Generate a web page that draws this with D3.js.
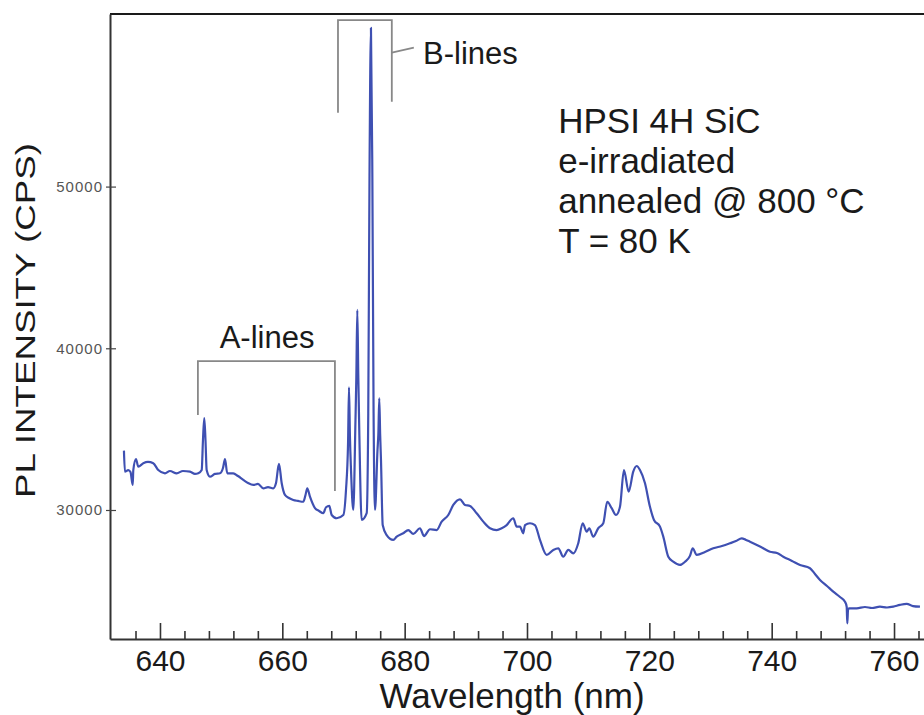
<!DOCTYPE html>
<html>
<head>
<meta charset="utf-8">
<script src="https://cdn.jsdelivr.net/npm/d3@7"></script>
<style>
  body { margin: 0; background: #fff; }
  svg { display: block; font-family: "Liberation Sans", Arial, sans-serif; }
</style>
</head>
<body>
<script>
// PL spectrum: wavelength (nm) and intensity (CPS)
const wavelength = [
  634.11, 634.27, 634.82, 635.18, 635.54, 635.64, 636.08, 636.45, 637.27, 638.04,
  638.90, 639.72, 640.82, 641.63, 642.73, 643.76, 644.90, 645.72, 646.26, 646.82,
  647.03, 647.24, 647.44, 647.63, 648.17, 648.99, 649.81, 650.30, 650.63, 651.00,
  651.98, 652.75, 653.62, 654.39, 655.25, 656.02, 656.89, 657.66, 658.52, 658.96,
  659.45, 659.90, 660.43, 661.09, 661.79, 662.56, 663.43, 663.79, 664.08, 664.52,
  665.34, 666.00, 666.70, 667.14, 667.68, 668.07, 668.89, 669.97, 670.41, 670.75,
  670.90, 671.05, 671.23, 671.60, 671.96, 672.10, 672.26, 672.42, 672.58, 672.97,
  673.79, 674.05, 674.25, 674.49, 674.72, 674.92, 675.15, 675.56, 675.70, 675.85,
  676.00, 676.13, 676.41, 677.06, 678.14, 678.70, 679.77, 680.59,
  681.41, 682.50, 683.16, 684.14, 685.23, 686.05, 687.13, 687.95, 689.04, 689.86,
  690.68, 691.77, 692.85, 693.95, 695.04, 695.86, 696.68, 697.76, 698.31, 698.85,
  699.39, 699.67, 700.49, 701.30, 702.12, 703.22, 704.30, 705.11, 705.93, 706.75,
  707.57, 708.38, 709.10, 709.76, 710.18, 710.83, 711.65, 712.47, 713.12, 713.84,
  714.55, 715.20, 715.85, 716.62, 717.37, 717.93, 718.47, 719.29, 720.10, 720.76,
  721.74, 722.28, 723.10, 723.91, 725.01, 725.83, 726.64, 727.09, 727.74, 729.09,
  730.45, 731.87, 733.18, 734.16, 735.10, 735.80, 736.45, 738.09, 739.72, 740.87,
  741.90, 743.32, 744.63, 746.26, 747.08, 747.90, 749.04, 750.07, 751.17, 751.98,
  752.26, 752.36, 752.48, 752.64, 753.90, 755.25, 756.40, 757.70, 758.85, 759.88,
  760.97, 762.07, 763.10, 764.24
];
const intensity = [
  33670, 32370, 32470, 32350, 31550, 32470, 33150, 32680, 32890, 32970,
  32890, 32470, 32270, 32410, 32270, 32410, 32370, 32230, 32270, 32470,
  34330, 35690, 34330, 32470, 32060, 32230, 32270, 32600, 33140, 32270,
  32270, 32100, 31860, 31670, 31550, 31610, 31340, 31420, 31340, 31650,
  32850, 31650, 30930, 30740, 30620, 30560, 30510, 30930, 31340, 30820,
  30110, 29940, 29800, 30170, 30250, 29690, 29490, 29690, 31240, 34200,
  37590, 34600, 32470, 30000, 35570, 38200, 42370, 38300, 34950, 29380,
  29800, 36000, 50500, 59810, 50500, 36000, 30000, 33710, 34700, 36910,
  34600, 33090, 29070, 28450, 28150, 28350, 28560, 28760,
  28520, 28870, 28390, 28810, 28760, 29280, 29690, 30310, 30660, 30310,
  30250, 29800, 29280, 28870, 28760, 28870, 29070, 29490, 28970, 28970,
  28560, 29070, 29180, 29070, 28150, 27220, 27530, 27630, 27110, 27530,
  27320, 27940, 29180, 28660, 28870, 28350, 28870, 29180, 30510, 30110,
  29690, 30200, 32470, 31130, 32370, 32720, 32470, 31650, 30200, 29380,
  28970, 28350, 27110, 26800, 26600, 26800, 27160, 27630, 27220, 27400,
  27630, 27770, 27940, 28080, 28250, 28150, 28040, 27740, 27420, 27340,
  27110, 26850, 26600, 26400, 26040, 25670, 25300, 24950, 24620, 24330,
  24020, 22990, 23820, 23920, 23920, 24000, 23940, 24020, 23970, 24020,
  24130, 24190, 24060, 24020
];

const xMajorTicks = [640, 660, 680, 700, 720, 740, 760];
const xMinorTicks = [636, 644, 648, 652, 656, 664, 668, 672, 676, 684, 688, 692, 696,
                     704, 708, 712, 716, 724, 728, 732, 736, 744, 748, 752, 756, 764];
const yTicks = [30000, 40000, 50000];

// annotation anchors, in data units
const aBracket = { left: 646.2, right: 668.6, top: 39210, leftEnd: 35880, rightEnd: 31180 };
const bBracket = { left: 669.1, right: 677.9, top: 60300, leftEnd: 54570, rightEnd: 55250 };
const bLeader = [[677.9, 58280], [681.5, 58590]];
const aLabel = { text: "A-lines", x: 657.5, y: 40020 };
const bLabel = { text: "B-lines", x: 683.0, y: 57580 };
const sampleLines = ["HPSI 4H SiC", "e-irradiated", "annealed @ 800 °C", "T = 80 K"];
const sampleAt = { x: 705.1, y: 53300 };

const width = 924, height = 715;
const x = d3.scaleLinear().domain([631.83, 764.9]).range([110, 924]);
const y = d3.scaleLinear().domain([22022, 60673]).range([639, 14]);

const svg = d3.select("body").append("svg")
  .attr("width", width)
  .attr("height", height);

// frame: top line
svg.append("line")
  .attr("x1", x.range()[0]).attr("x2", x.range()[1])
  .attr("y1", y.range()[1]).attr("y2", y.range()[1])
  .attr("stroke", "#1a1a1a").attr("stroke-width", 2.2);

// x axis, ticks pointing into the plot
const xAxis = svg.append("g")
  .attr("transform", `translate(0,${y.range()[0]})`)
  .call(d3.axisBottom(x).tickValues(xMajorTicks).tickSizeInner(-16).tickSizeOuter(0).tickPadding(11));
xAxis.select(".domain").attr("stroke", "#333").attr("stroke-width", 2);
xAxis.selectAll(".tick line").attr("stroke", "#333").attr("stroke-width", 1.6);
xAxis.selectAll(".tick text")
  .attr("font-size", 30).attr("fill", "#1a1a1a")
  .attr("font-family", "Liberation Sans, Arial, sans-serif");

const xMinor = svg.append("g")
  .attr("transform", `translate(0,${y.range()[0]})`)
  .call(d3.axisBottom(x).tickValues(xMinorTicks).tickSizeInner(-8).tickSizeOuter(0).tickFormat(""));
xMinor.select(".domain").remove();
xMinor.selectAll(".tick line").attr("stroke", "#333").attr("stroke-width", 1.6);

// y axis
const yAxis = svg.append("g")
  .attr("transform", `translate(${x.range()[0]},0)`)
  .call(d3.axisLeft(y).tickValues(yTicks).tickFormat(d3.format("d"))
    .tickSizeInner(4).tickSizeOuter(0).tickPadding(3));
yAxis.select(".domain").attr("stroke", "#333").attr("stroke-width", 2);
yAxis.selectAll(".tick line").attr("x1", 6).attr("stroke", "#444").attr("stroke-width", 1.2);
yAxis.selectAll(".tick text")
  .attr("font-size", 15).attr("fill", "#555").attr("letter-spacing", 1)
  .attr("font-family", "Liberation Sans, Arial, sans-serif");

// axis titles
svg.append("text")
  .attr("x", 512).attr("y", 708)
  .attr("text-anchor", "middle")
  .attr("font-size", 35).attr("fill", "#1a1a1a")
  .text("Wavelength (nm)");

svg.append("text")
  .attr("transform", "translate(35,320.5) rotate(-90)")
  .attr("text-anchor", "middle")
  .attr("font-size", 28).attr("fill", "#1a1a1a")
  .attr("textLength", 355).attr("lengthAdjust", "spacingAndGlyphs")
  .text("PL INTENSITY (CPS)");

// spectrum
const spectrum = wavelength.map((w, i) => [w, intensity[i]]);
svg.append("path")
  .datum(spectrum)
  .attr("fill", "none")
  .attr("stroke", "#3f50b2")
  .attr("stroke-width", 2.2)
  .attr("stroke-linejoin", "round")
  .attr("d", d3.line().curve(d3.curveMonotoneX).x(d => x(d[0])).y(d => y(d[1])));

// brackets
function bracket(b) {
  const p = d3.path();
  p.moveTo(x(b.left), y(b.leftEnd));
  p.lineTo(x(b.left), y(b.top));
  p.lineTo(x(b.right), y(b.top));
  p.lineTo(x(b.right), y(b.rightEnd));
  return p.toString();
}
svg.selectAll("path.bracket")
  .data([aBracket, bBracket])
  .join("path")
  .attr("class", "bracket")
  .attr("fill", "none")
  .attr("stroke", "#888")
  .attr("stroke-width", 1.8)
  .attr("d", bracket);

svg.append("path")
  .attr("fill", "none").attr("stroke", "#888").attr("stroke-width", 1.8)
  .attr("d", d3.line().x(d => x(d[0])).y(d => y(d[1]))(bLeader));

svg.append("text")
  .attr("x", x(aLabel.x)).attr("y", y(aLabel.y))
  .attr("text-anchor", "middle")
  .attr("font-size", 31).attr("fill", "#1a1a1a")
  .text(aLabel.text);

svg.append("text")
  .attr("x", x(bLabel.x)).attr("y", y(bLabel.y))
  .attr("font-size", 31).attr("fill", "#1a1a1a")
  .text(bLabel.text);

// sample description
svg.append("g")
  .selectAll("text")
  .data(sampleLines)
  .join("text")
  .attr("x", x(sampleAt.x))
  .attr("y", (d, i) => y(sampleAt.y) + i * 40)
  .attr("font-size", 35).attr("fill", "#1a1a1a")
  .text(d => d);
</script>
</body>
</html>
